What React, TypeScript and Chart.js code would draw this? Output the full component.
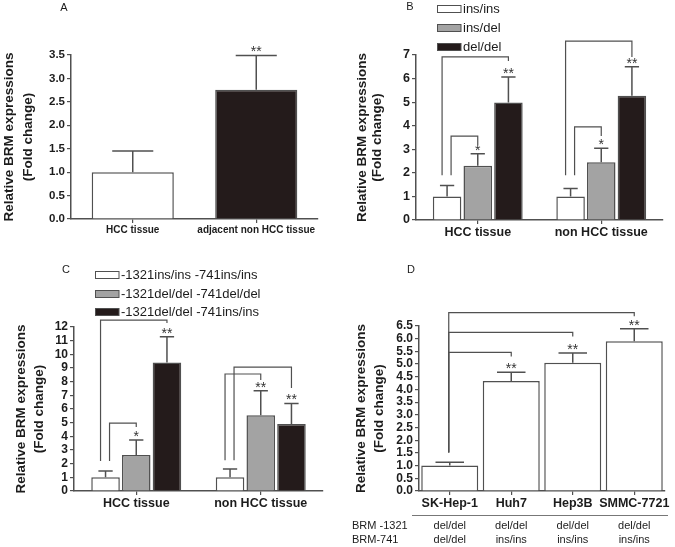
import React, { useEffect, useRef } from 'react';
import { Chart, registerables } from 'chart.js';

Chart.register(...registerables);

const FONT_FAMILY = '"Liberation Sans", Arial, Helvetica, sans-serif';
const INK = '#1c1c1c';
const LINE = '#505050';
const WHITE_FILL = '#ffffff';
const GRAY_FILL = '#a3a3a3';
const BLACK_FILL = '#241b1b';

const Y_TITLE = ['Relative BRM expressions', '(Fold change)'];

// ---------- Panel A ----------
const A_CATEGORIES = ['HCC tissue', 'adjacent non HCC tissue'];
const A_MEAN = [1.0, 2.76];
const A_UPPER = [1.45, 3.49];
const A_STARS = ['', '**'];

// ---------- Panel B ----------
const B_CATEGORIES = ['HCC tissue', 'non HCC tissue'];
const B_SERIES = ['ins/ins', 'ins/del', 'del/del'];
const B_INS_INS = [1.0, 1.0];
const B_INS_DEL = [2.3, 2.45];
const B_DEL_DEL = [4.99, 5.27];
const B_INS_INS_UPPER = [1.46, 1.34];
const B_INS_DEL_UPPER = [2.81, 3.04];
const B_DEL_DEL_UPPER = [6.07, 6.5];
const B_INS_DEL_STARS = ['*', '*'];
const B_DEL_DEL_STARS = ['**', '**'];

// ---------- Panel C ----------
const C_CATEGORIES = ['HCC tissue', 'non HCC tissue'];
const C_SERIES = ['-1321ins/ins -741ins/ins', '-1321del/del -741del/del', '-1321del/del -741ins/ins'];
const C_II_II = [1.0, 1.0];
const C_DD_DD = [2.63, 5.54];
const C_DD_II = [9.41, 4.9];
const C_II_II_UPPER = [1.46, 1.61];
const C_DD_DD_UPPER = [3.73, 7.34];
const C_DD_II_UPPER = [11.29, 6.41];
const C_DD_DD_STARS = ['*', '**'];
const C_DD_II_STARS = ['**', '**'];

// ---------- Panel D ----------
const D_CELL_LINES = ['SK-Hep-1', 'Huh7', 'Hep3B', 'SMMC-7721'];
const D_MEAN = [1.0, 4.33, 5.05, 5.9];
const D_UPPER = [1.13, 4.68, 5.44, 6.39];
const D_STARS = ['', '**', '**', '**'];
const D_ROW_LABELS = ['BRM -1321', 'BRM-741'];
const D_BRM_1321 = ['del/del', 'del/del', 'del/del', 'del/del'];
const D_BRM_741 = ['del/del', 'ins/ins', 'ins/ins', 'ins/ins'];

// significance brackets: [datasetIndex, categoryIndex], levels in data units
type Leg = 'outer' | 'inner' | 'mid';
type Bracket = { from: [number, number]; to: [number, number]; top: number; fromEnd: number; toEnd: number; leg: Leg };

const B_BRACKETS: Bracket[] = [
  { from: [0, 0], to: [2, 0], top: 6.92, fromEnd: 1.9, toEnd: 6.75, leg: 'outer' },
  { from: [0, 0], to: [1, 0], top: 3.56, fromEnd: 1.9, toEnd: 3.18, leg: 'inner' },
  { from: [0, 1], to: [2, 1], top: 7.59, fromEnd: 1.9, toEnd: 6.92, leg: 'outer' },
  { from: [0, 1], to: [1, 1], top: 3.95, fromEnd: 1.9, toEnd: 3.56, leg: 'inner' },
];
const C_BRACKETS: Bracket[] = [
  { from: [0, 0], to: [2, 0], top: 12.51, fromEnd: 2.2, toEnd: 12.29, leg: 'outer' },
  { from: [0, 0], to: [1, 0], top: 4.97, fromEnd: 2.2, toEnd: 4.68, leg: 'inner' },
  { from: [0, 1], to: [1, 1], top: 8.56, fromEnd: 2.25, toEnd: 8.12, leg: 'outer' },
  { from: [0, 1], to: [2, 1], top: 9.07, fromEnd: 2.25, toEnd: 7.53, leg: 'inner' },
];
const D_BRACKETS: Bracket[] = [
  { from: [0, 0], to: [0, 3], top: 7.03, fromEnd: 1.52, toEnd: 6.88, leg: 'mid' },
  { from: [0, 0], to: [0, 2], top: 6.25, fromEnd: 1.52, toEnd: 6.09, leg: 'mid' },
  { from: [0, 0], to: [0, 1], top: 5.46, fromEnd: 1.52, toEnd: 5.3, leg: 'mid' },
];

const LEG_SHIFT: Record<Leg, number> = { outer: -5, inner: 4, mid: -1 };

type Series = { label: string; data: number[]; upper: number[]; stars: string[]; fill: string | string[] };

type PanelSpec = {
  box: { x: number; y: number; w: number; h: number };
  area: { left: number; top: number; right: number; bottom: number };
  categories: string[];
  series: Series[];
  yMin: number;
  yMax: number;
  yStep: number;
  decimals: number;
  tickFont: number;
  catFont: number;
  catPct: number;
  barPct: number;
  brackets: Bracket[];
  letter: string;
  letterPos: [number, number];
  titleX: [number, number];
  legend?: { x: number; rows: number[] };
  table?: { lineY: number; lineX: [number, number]; labelX: number; rowY: number[]; rows: string[][]; labels: string[] };
};

const PANELS: PanelSpec[] = [
  {
    box: { x: 0, y: 0, w: 335, h: 270 },
    area: { left: 71, top: 55, right: 318, bottom: 219 },
    categories: A_CATEGORIES,
    series: [{ label: 'A', data: A_MEAN, upper: A_UPPER, stars: A_STARS, fill: [WHITE_FILL, BLACK_FILL] }],
    yMin: 0, yMax: 3.5, yStep: 0.5, decimals: 1,
    tickFont: 11.5, catFont: 10,
    catPct: 1, barPct: 0.665,
    brackets: [],
    letter: 'A', letterPos: [64, 8],
    titleX: [9.5, 28],
  },
  {
    box: { x: 335, y: 0, w: 340, h: 270 },
    area: { left: 81, top: 55, right: 328, bottom: 220 },
    categories: B_CATEGORIES,
    series: [
      { label: B_SERIES[0], data: B_INS_INS, upper: B_INS_INS_UPPER, stars: ['', ''], fill: WHITE_FILL },
      { label: B_SERIES[1], data: B_INS_DEL, upper: B_INS_DEL_UPPER, stars: B_INS_DEL_STARS, fill: GRAY_FILL },
      { label: B_SERIES[2], data: B_DEL_DEL, upper: B_DEL_DEL_UPPER, stars: B_DEL_DEL_STARS, fill: BLACK_FILL },
    ],
    yMin: 0, yMax: 7, yStep: 1, decimals: 0,
    tickFont: 12.5, catFont: 12.5,
    catPct: 0.745, barPct: 0.93,
    brackets: B_BRACKETS,
    letter: 'B', letterPos: [75, 7],
    titleX: [27.5, 42.5],
    legend: { x: 102, rows: [9, 28, 47] },
  },
  {
    box: { x: 0, y: 262, w: 335, h: 285 },
    area: { left: 74, top: 65, right: 323, bottom: 229 },
    categories: C_CATEGORIES,
    series: [
      { label: C_SERIES[0], data: C_II_II, upper: C_II_II_UPPER, stars: ['', ''], fill: WHITE_FILL },
      { label: C_SERIES[1], data: C_DD_DD, upper: C_DD_DD_UPPER, stars: C_DD_DD_STARS, fill: GRAY_FILL },
      { label: C_SERIES[2], data: C_DD_II, upper: C_DD_II_UPPER, stars: C_DD_II_STARS, fill: BLACK_FILL },
    ],
    yMin: 0, yMax: 12, yStep: 1, decimals: 0,
    tickFont: 12, catFont: 12.5,
    catPct: 0.74, barPct: 0.93,
    brackets: C_BRACKETS,
    letter: 'C', letterPos: [66, 8],
    titleX: [21, 39],
    legend: { x: 95, rows: [13, 32, 50] },
  },
  {
    box: { x: 335, y: 262, w: 340, h: 285 },
    area: { left: 84, top: 64, right: 330, bottom: 229 },
    categories: D_CELL_LINES,
    series: [{ label: 'D', data: D_MEAN, upper: D_UPPER, stars: D_STARS, fill: WHITE_FILL }],
    yMin: 0, yMax: 6.5, yStep: 0.5, decimals: 1,
    tickFont: 12, catFont: 12.5,
    catPct: 1, barPct: 0.927,
    brackets: D_BRACKETS,
    letter: 'D', letterPos: [76, 8],
    titleX: [26, 44.5],
    table: {
      lineY: 253, lineX: [77, 333], labelX: 17, rowY: [264, 278],
      rows: [D_BRM_1321, D_BRM_741], labels: D_ROW_LABELS,
    },
  },
];

function font(size: number, bold = false) {
  return `${bold ? 'bold ' : ''}${size}px ${FONT_FAMILY}`;
}

function makeOverlay(spec: PanelSpec) {
  return {
    id: 'overlay',
    afterDraw(chart: any) {
      const ctx: CanvasRenderingContext2D = chart.ctx;
      const y = chart.scales.y;
      const x = chart.scales.x;
      const area = chart.chartArea;
      ctx.save();

      // error bars and stars
      spec.series.forEach((s, i) => {
        const meta = chart.getDatasetMeta(i);
        meta.data.forEach((el: any, j: number) => {
          const cx = el.x;
          const yTop = y.getPixelForValue(s.upper[j]);
          const yBar = el.y;
          const half = el.width / 4;
          ctx.strokeStyle = LINE;
          ctx.lineWidth = 1.5;
          ctx.beginPath();
          ctx.moveTo(cx, yBar);
          ctx.lineTo(cx, yTop);
          ctx.moveTo(cx - half, yTop);
          ctx.lineTo(cx + half, yTop);
          ctx.stroke();
          if (s.stars[j]) {
            ctx.fillStyle = '#333';
            ctx.font = font(14);
            ctx.textAlign = 'center';
            ctx.textBaseline = 'alphabetic';
            ctx.fillText(s.stars[j], cx, yTop + 1);
          }
        });
      });

      // brackets
      ctx.strokeStyle = LINE;
      ctx.lineWidth = 1.2;
      spec.brackets.forEach((b) => {
        const a = chart.getDatasetMeta(b.from[0]).data[b.from[1]];
        const t = chart.getDatasetMeta(b.to[0]).data[b.to[1]];
        const x1 = a.x + LEG_SHIFT[b.leg];
        const x2 = t.x;
        const yt = y.getPixelForValue(b.top);
        ctx.beginPath();
        ctx.moveTo(x1, y.getPixelForValue(b.fromEnd));
        ctx.lineTo(x1, yt);
        ctx.lineTo(x2, yt);
        ctx.lineTo(x2, y.getPixelForValue(b.toEnd));
        ctx.stroke();
      });

      // y axis title (two lines)
      const cy = (area.top + area.bottom) / 2;
      ctx.fillStyle = INK;
      ctx.font = font(13.5, true);
      ctx.textAlign = 'center';
      ctx.textBaseline = 'middle';
      Y_TITLE.forEach((line, k) => {
        ctx.save();
        ctx.translate(spec.titleX[k], cy);
        ctx.rotate(-Math.PI / 2);
        ctx.fillText(line, 0, 0);
        ctx.restore();
      });

      // panel letter
      ctx.font = font(11);
      ctx.fillStyle = INK;
      ctx.textAlign = 'center';
      ctx.textBaseline = 'middle';
      ctx.fillText(spec.letter, spec.letterPos[0], spec.letterPos[1]);

      // legend
      if (spec.legend) {
        const lg = spec.legend;
        spec.series.forEach((s, i) => {
          const ry = lg.rows[i];
          ctx.fillStyle = s.fill as string;
          ctx.fillRect(lg.x, ry - 3.5, 24, 7);
          ctx.strokeStyle = LINE;
          ctx.lineWidth = 1;
          ctx.strokeRect(lg.x + 0.5, ry - 3.5, 23.5, 7);
          ctx.fillStyle = INK;
          ctx.font = font(13);
          ctx.textAlign = 'left';
          ctx.textBaseline = 'middle';
          ctx.fillText(s.label, lg.x + 26, ry);
        });
      }

      // genotype table under panel D
      if (spec.table) {
        const tb = spec.table;
        ctx.strokeStyle = '#777';
        ctx.lineWidth = 1;
        ctx.beginPath();
        ctx.moveTo(tb.lineX[0], tb.lineY + 0.5);
        ctx.lineTo(tb.lineX[1], tb.lineY + 0.5);
        ctx.stroke();
        ctx.font = font(11);
        ctx.fillStyle = INK;
        ctx.textBaseline = 'middle';
        tb.labels.forEach((lab, r) => {
          ctx.textAlign = 'left';
          ctx.fillText(lab, tb.labelX, tb.rowY[r]);
          ctx.textAlign = 'center';
          tb.rows[r].forEach((v, j) => {
            ctx.fillText(v, x.getPixelForTick(j), tb.rowY[r]);
          });
        });
      }
      ctx.restore();
    },
  };
}

function buildConfig(spec: PanelSpec): any {
  const { box, area } = spec;
  const gridCommon = {
    display: true,
    drawOnChartArea: false,
    drawTicks: true,
    tickLength: 4,
    color: LINE,
    lineWidth: 1.2,
  };
  return {
    type: 'bar',
    data: {
      labels: spec.categories,
      datasets: spec.series.map((s) => ({
        label: s.label,
        data: s.data,
        backgroundColor: s.fill,
        borderColor: LINE,
        borderWidth: 1.5,
        categoryPercentage: spec.catPct,
        barPercentage: spec.barPct,
      })),
    },
    options: {
      animation: false,
      responsive: false,
      devicePixelRatio: 1,
      layout: { padding: { left: 0, top: area.top, right: box.w - area.right, bottom: 0 } },
      plugins: { legend: { display: false }, tooltip: { enabled: false }, title: { display: false } },
      scales: {
        x: {
          type: 'category',
          offset: true,
          grid: { ...gridCommon, offset: false },
          border: { display: true, color: LINE, width: 1.5 },
          ticks: {
            font: { family: FONT_FAMILY, size: spec.catFont, weight: 'bold' },
            color: INK,
            padding: 1,
            maxRotation: 0,
            minRotation: 0,
            autoSkip: false,
          },
          afterFit: (s: any) => {
            s.height = box.h - area.bottom;
          },
        },
        y: {
          type: 'linear',
          min: spec.yMin,
          max: spec.yMax,
          grid: gridCommon,
          border: { display: true, color: LINE, width: 1.5 },
          ticks: {
            stepSize: spec.yStep,
            autoSkip: false,
            font: { family: FONT_FAMILY, size: spec.tickFont, weight: 'bold' },
            color: INK,
            padding: 2,
            callback: (v: any) => Number(v).toFixed(spec.decimals),
          },
          afterFit: (s: any) => {
            s.width = area.left;
          },
        },
      },
    },
    plugins: [makeOverlay(spec)],
  };
}

function Panel({ spec }: { spec: PanelSpec }) {
  const ref = useRef<HTMLCanvasElement>(null);
  useEffect(() => {
    if (!ref.current) return;
    const chart = new Chart(ref.current, buildConfig(spec));
    return () => chart.destroy();
  }, [spec]);
  const { box } = spec;
  return (
    <canvas
      ref={ref}
      width={box.w}
      height={box.h}
      style={{ position: 'absolute', left: box.x, top: box.y, width: box.w, height: box.h }}
    />
  );
}

export default function App() {
  return (
    <div style={{ position: 'fixed', left: 0, top: 0, width: 675, height: 547, background: '#ffffff', overflow: 'hidden' }}>
      {PANELS.map((p, i) => (
        <Panel key={i} spec={p} />
      ))}
    </div>
  );
}
